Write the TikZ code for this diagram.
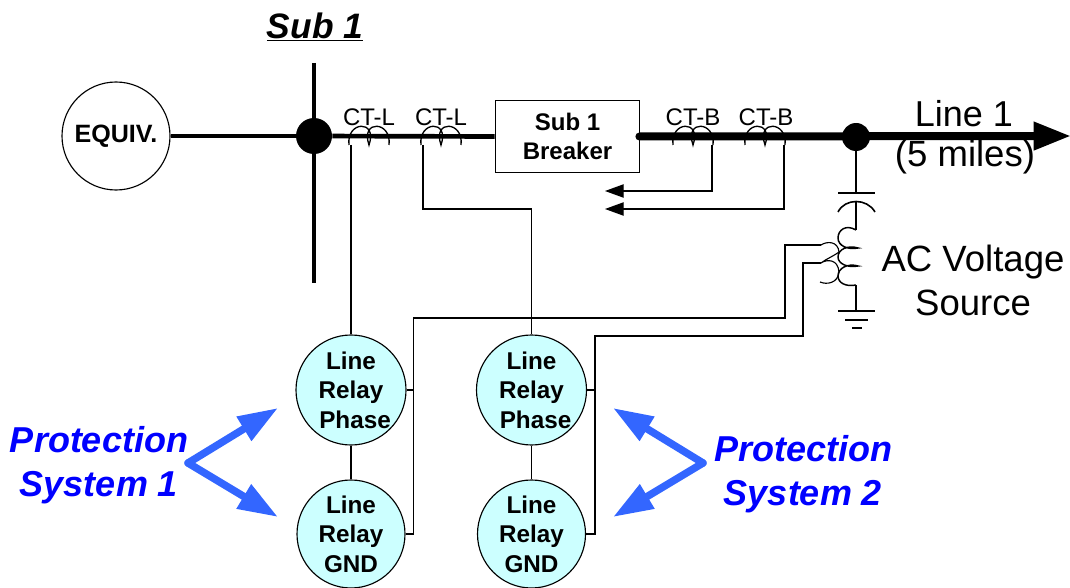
\documentclass[tikz,border=0pt]{standalone}
\usepackage{fontspec}
\setmainfont{Liberation Sans}
\usetikzlibrary{arrows.meta,calc}
\definecolor{relayfill}{RGB}{204,255,255}
\definecolor{protarrow}{RGB}{51,102,255}
\definecolor{prottext}{RGB}{0,0,255}
\tikzset{
  wire/.style={line width=.85pt,black},
  busline/.style={line width=3.5pt,black},
  heavy/.style={line width=6pt,black,line cap=round},
  relay/.style={circle,draw,line width=.85pt,fill=relayfill,minimum size=81pt,inner sep=0pt,align=center,font=\fontsize{18.2}{22}\selectfont\bfseries},
  ctlabel/.style={font=\fontsize{18}{20}\selectfont,inner sep=0pt},
  bigtext/.style={font=\fontsize{27}{32}\selectfont,inner sep=0pt,align=center},
  prottxt/.style={font=\fontsize{27}{33}\selectfont\bfseries\itshape,text=prottext,inner sep=0pt,align=center},
  protarr/.style={line width=5.6pt,protarrow,line cap=round,-{Triangle[length=30pt,width=20pt]}},
  smallarr/.style={wire,-{Triangle[length=14pt,width=10pt]}},
  dot/.style={circle,fill=black,inner sep=0pt},
}
\newcommand{\ctcoil}[1]{\draw[wire,line width=1pt] ($(#1)+(-20,9)$) .. controls ($(#1)+(-23,-15)$) and ($(#1)+(9,-17)$) .. ($(#1)+(0,9)$) .. controls ($(#1)+(-9,-17)$) and ($(#1)+(23,-15)$) .. ($(#1)+(20,9)$);}
\begin{document}
\begin{tikzpicture}[x=.75pt,y=-.75pt]
\useasboundingbox (0,0) rectangle (1070,588);
% coordinates
\coordinate (busT) at (314,63);
\coordinate (busB) at (314,283);
\coordinate (ct1) at (369,136);
\coordinate (ct2) at (441,136);
\coordinate (ct3) at (693,136);
\coordinate (ct4) at (765,136);
\coordinate (lineEnd) at (1071,136);
\coordinate (lead1) at (351,145);
\coordinate (lead2) at (423,145);
\coordinate (lead3) at (712,145);
\coordinate (lead4) at (784,145);
\coordinate (arr3) at (605,191);
\coordinate (arr4) at (605,209);
% nodes
\node[circle,draw,line width=.85pt,minimum size=81pt,inner sep=0pt,font=\fontsize{18.8}{22}\selectfont\bfseries] (equiv) at (116,136) {EQUIV.};
\node[dot,minimum size=27pt] (busdot) at (314,136) {};
\node[draw,line width=.85pt,fill=white,minimum width=108.5pt,minimum height=54.5pt,inner sep=0pt,align=center,font=\fontsize{18}{29}\selectfont\bfseries] (brk) at (567.5,136.5) {Sub 1\\[-7pt]Breaker};
\node[dot,minimum size=21pt] (linedot) at (856,137) {};
% main lines
\draw[busline] (equiv) -- (busdot);
\draw[busline] (busT) -- (busB);
\draw[busline] (busdot) -- (brk.west);
\draw[heavy,-{Triangle[length=28pt,width=20pt]}] ($(brk.east)+(-1,0)$) -- (lineEnd);
% CTs
\ctcoil{ct1}\ctcoil{ct2}\ctcoil{ct3}\ctcoil{ct4}
\node[ctlabel] (l1) at (369,117) {CT-L};
\node[ctlabel] (l2) at (441,117) {CT-L};
\node[ctlabel] (l3) at (693,117) {CT-B};
\node[ctlabel] (l4) at (766,117) {CT-B};
% relays
\node[relay] (r1) at (351,390) {Line\\Relay\\\hspace*{6pt}Phase};
\node[relay] (r2) at (351,534) {Line\\Relay\\GND};
\node[relay] (r3) at (531.5,390) {Line\\Relay\\\hspace*{6pt}Phase};
\node[relay] (r4) at (531.5,534) {Line\\Relay\\GND};
\draw[wire] (r1) -- (r2);
\draw[wire] (r3) -- (r4);
% CT leads
\draw[wire] (lead1) -- (r1);
\draw[wire] (lead2) |- (531.5,209) -- (r3);
\draw[smallarr] (lead3) |- (arr3);
\draw[smallarr] (lead4) |- (arr4);
% CCVT
\coordinate (capT) at (856,193);
\coordinate (capB) at (856,202);
\coordinate (coilT) at (856,230);
\coordinate (coilB) at (856,285);
\coordinate (gnd) at (856,311);
\draw[wire,line width=1.2pt] (linedot) -- (capT);
\draw[wire,line width=1.2pt] (838,193) -- (875,193);
\draw[wire,line width=1.2pt] (838,212) .. controls (845,198) and (867,198) .. (875,212);
\draw[wire,line width=1.2pt] (capB) -- (coilT);
\draw[wire,line width=1.1pt] (coilT) .. controls (846,224) and (838,230) .. (838,238) .. controls (838,246) and (848,250) .. (858,248) .. controls (848,245) and (838,249) .. (838,257) .. controls (838,264) and (848,268) .. (858,266) .. controls (848,263) and (838,268) .. (838,276) .. controls (838,283) and (846,287) .. (coilB);
\draw[wire,line width=1.2pt] (coilB) -- (gnd);
\draw[wire,line width=1.2pt] (838,311) -- (875,311);
\draw[wire,line width=1.2pt] (845,320) -- (868,320);
\draw[wire,line width=1.2pt] (852,328) -- (862,328);
% secondary
\coordinate (s1) at (821,245);
\coordinate (s2) at (821,263);
\draw[wire] (821,245) .. controls (827,241) and (838,241) .. (839,252) .. controls (832,257) and (826,259) .. (821,263) .. controls (827,259) and (838,259) .. (839,272) .. controls (838,283) and (827,285) .. (820,282);
% relay wiring
\coordinate (j1) at (413.5,390);
\coordinate (j2) at (413.5,534);
\coordinate (j3) at (595,390);
\coordinate (j4) at (595,534);
\draw[wire] (s1) -- (785,245) |- (413.5,318) -- (j2) -- (r2.east);
\draw[wire] (j1) -- (r1.east);
\draw[wire] (s2) -- (803,263) |- (595,336) -- (j4) -- (r4.east);
\draw[wire] (j3) -- (r3.east);
% text
\node[font=\fontsize{26.5}{32}\selectfont\bfseries\itshape,inner sep=0pt] (sub) at (315,27) {\underline{Sub 1}};
\node[bigtext] (line1) at (964,114) {Line 1};
\node[bigtext,font=\fontsize{27.4}{32}\selectfont] (miles) at (965,157) {(5 miles)};
\node[bigtext,font=\fontsize{27.4}{33}\selectfont] (ac) at (973,280) {AC Voltage\\Source};
\node[prottxt] (p1) at (99,465) {Protection\\System 1};
\node[prottxt] (p2) at (803,474) {Protection\\System 2};
% blue arrows
\coordinate (v1) at (188,463);
\coordinate (v2) at (703,463);
\coordinate (t1) at (278,408);
\coordinate (t2) at (278,517);
\coordinate (t3) at (613,408);
\coordinate (t4) at (613,517);
\draw[protarr] (v1) -- (t1);
\draw[protarr] (v1) -- (t2);
\draw[protarr] (v2) -- (t3);
\draw[protarr] (v2) -- (t4);
\end{tikzpicture}
\end{document}
